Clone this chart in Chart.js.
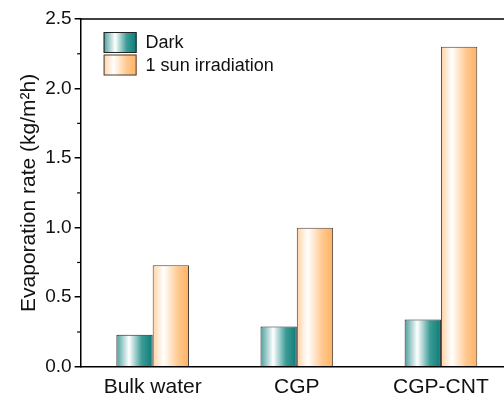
<!DOCTYPE html>
<html>
<head>
<meta charset="utf-8">
<script src="https://cdn.jsdelivr.net/npm/chart.js@4"></script>
<style>
  html, body { margin: 0; padding: 0; overflow: hidden; background: #fff; }
  #wrap { width: 520px; height: 403px; }
</style>
</head>
<body>
<div id="wrap"><canvas id="evapChart"></canvas></div>
<script>
// values
const categories = ['Bulk water', 'CGP', 'CGP-CNT'];
const darkValues = [0.23, 0.29, 0.34];
const sunValues = [0.73, 1.0, 2.3];
const seriesNames = ['Dark', '1 sun irradiation'];
const yTicks = [0, 0.5, 1.0, 1.5, 2.0, 2.5];
const yMinorTicks = [0.25, 0.75, 1.25, 1.75, 2.25];

const catPct = 0.504;
const tealStops = [[0, '#4a9f9c'], [0.35, '#ffffff'], [0.7, '#3c9b96'], [1, '#0a7d76']];
const orangeStops = [[0, '#ffd2a4'], [0.3, '#ffffff'], [0.7, '#ffc88e'], [1, '#ffb264']];

function makeGradient(ctx, x0, x1, stops) {
  const g = ctx.createLinearGradient(x0, 0, x1, 0);
  stops.forEach(s => g.addColorStop(s[0], s[1]));
  return g;
}

// bar fill: horizontal gradient across each bar
function barFill(stops, side) {
  return function (c) {
    const chart = c.chart;
    const xs = chart.scales.x;
    if (!xs || !xs.width) return stops[stops.length - 1][1];
    const center = xs.getPixelForValue(c.dataIndex);
    const bw = xs.width / categories.length * catPct / 2;
    const x0 = side < 0 ? center - bw : center;
    return makeGradient(chart.ctx, x0, x0 + bw, stops);
  };
}

const framePlugin = {
  id: 'frame',
  afterDraw(chart) {
    const ctx = chart.ctx;
    const a = chart.chartArea;
    const y = chart.scales.y;
    ctx.save();
    ctx.strokeStyle = '#000';
    ctx.lineWidth = 1.5;
    ctx.beginPath();
    ctx.moveTo(a.left - 0.75, a.top);
    ctx.lineTo(a.right + 2, a.top);
    ctx.stroke();

    ctx.lineWidth = 1.2;
    yMinorTicks.forEach(v => {
      const py = y.getPixelForValue(v);
      ctx.beginPath();
      ctx.moveTo(a.left - 3.5, py);
      ctx.lineTo(a.left, py);
      ctx.stroke();
    });

    // legend inside the plot, top left
    const lx = a.left + 23, bw = 33, bh = 21;
    const fills = [tealStops, orangeStops];
    const borders = ['#222', '#4a4038'];
    ctx.font = '18px "Liberation Sans", Arial, sans-serif';
    ctx.textBaseline = 'middle';
    seriesNames.forEach((name, i) => {
      const ly = a.top + 13 + i * 22.5;
      ctx.fillStyle = makeGradient(ctx, lx, lx + bw, fills[i]);
      ctx.fillRect(lx, ly, bw, bh);
      ctx.lineWidth = 1;
      ctx.strokeStyle = borders[i];
      ctx.strokeRect(lx + 0.5, ly + 0.5, bw - 1, bh - 1);
      ctx.fillStyle = '#111';
      ctx.fillText(name, lx + bw + 9, ly + bh / 2 + 1);
    });
    ctx.restore();
  }
};

new Chart(document.getElementById('evapChart'), {
  type: 'bar',
  data: {
    labels: categories,
    datasets: [{
      label: seriesNames[0],
      data: darkValues,
      backgroundColor: barFill(tealStops, -1),
      borderColor: '#222',
      borderWidth: 1,
      categoryPercentage: catPct,
      barPercentage: 1
    }, {
      label: seriesNames[1],
      data: sunValues,
      backgroundColor: barFill(orangeStops, 1),
      borderColor: '#4a4038',
      borderWidth: 1,
      categoryPercentage: catPct,
      barPercentage: 1
    }]
  },
  options: {
    responsive: true,
    maintainAspectRatio: false,
    animation: false,
    layout: { padding: { left: 17, right: 7, top: 19, bottom: -5 } },
    plugins: { legend: { display: false }, tooltip: { enabled: false } },
    scales: {
      x: {
        grid: { display: false, drawTicks: false },
        border: { display: true, color: '#000', width: 1.5 },
        ticks: { color: '#111', padding: 8, font: { family: '"Liberation Sans", Arial', size: 21 } }
      },
      y: {
        min: 0,
        max: 2.5,
        afterBuildTicks: scale => { scale.ticks = yTicks.map(v => ({ value: v })); },
        grid: { drawOnChartArea: false, drawTicks: true, tickLength: 6, color: '#000', lineWidth: 1.5 },
        border: { display: true, color: '#000', width: 1.5 },
        ticks: {
          color: '#111',
          padding: 3,
          font: { family: '"Liberation Sans", Arial', size: 19 },
          callback: v => Number(v).toFixed(1)
        },
        title: {
          display: true,
          text: 'Evaporation rate (kg/m²h)',
          color: '#111',
          padding: { top: 0, bottom: 0 },
          font: { family: '"Liberation Sans", Arial', size: 21 }
        }
      }
    }
  },
  plugins: [framePlugin]
});
</script>
</body>
</html>
